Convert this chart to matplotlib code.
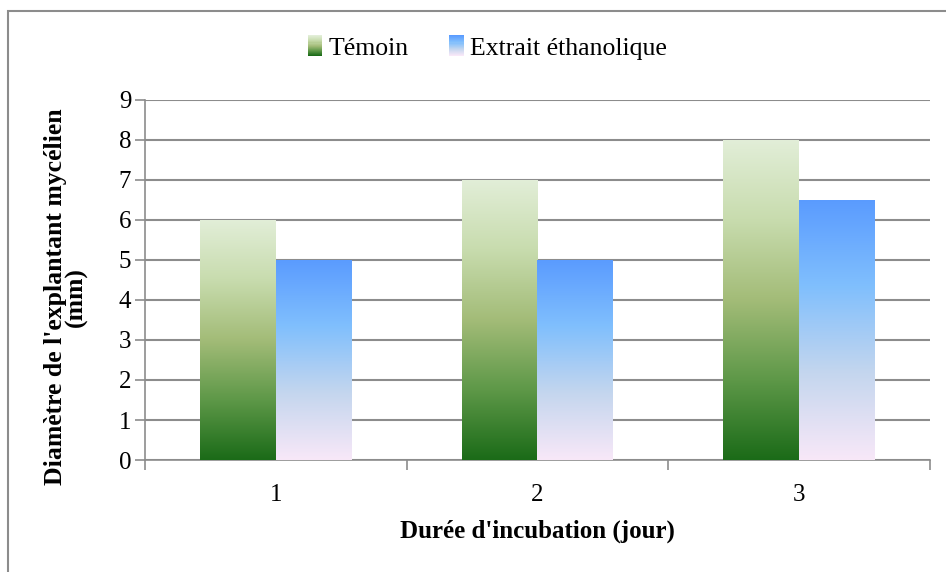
import numpy as np
import matplotlib
matplotlib.use('Agg')
import matplotlib.pyplot as plt
from matplotlib.colors import LinearSegmentedColormap
from matplotlib.patches import Rectangle
from matplotlib.legend_handler import HandlerBase

# données
jours = ['1', '2', '3']
temoin = [6, 7, 8]
extrait = [5, 5, 6.5]

plt.rcParams['font.family'] = ['Liberation Serif', 'DejaVu Serif']

cmap_vert = LinearSegmentedColormap.from_list('vert', ['#1b6b18', '#5e9848', '#a3bc78', '#c8dcae', '#e2eed8'])
cmap_bleu = LinearSegmentedColormap.from_list('bleu', ['#f8e8f8', '#c4d6ee', '#80bffd', '#5a9bff'])

fig = plt.figure(figsize=(9.46, 5.72), dpi=100)
ax = fig.add_axes([0.1533, 0.1958, 0.8297, 0.6294])

x = np.arange(len(jours))
w = 0.29
grad = np.linspace(0, 1, 256).reshape(-1, 1)


def gradient_bars(xs, vals, cmap):
    bars = ax.bar(xs, vals, width=w, color='none', edgecolor='none', zorder=3)
    for b in bars:
        x0, y0 = b.get_x(), b.get_y()
        im = ax.imshow(grad, cmap=cmap, origin='lower', aspect='auto',
                       extent=[x0, x0 + b.get_width(), y0, y0 + b.get_height()],
                       zorder=3)
        im.set_clip_path(b)
    return bars


gradient_bars(x - w / 2, temoin, cmap_vert)
gradient_bars(x + w / 2, extrait, cmap_bleu)

ax.set_xlim(-0.5, 2.5)
ax.set_ylim(0, 9)
ax.set_yticks(range(10))
ax.yaxis.grid(True, color='#8c8c8c', linewidth=1.5, zorder=0)
ax.set_axisbelow(True)

ax.set_xticks(x)
ax.set_xticklabels(jours)
ax.set_xticks([-0.5, 0.5, 1.5, 2.5], minor=True)
ax.tick_params(axis='x', which='major', length=0, pad=17, labelsize=18)
ax.tick_params(axis='x', which='minor', length=7, color='#8c8c8c', width=1.2)
ax.tick_params(axis='y', length=7, color='#8c8c8c', width=1.2, labelsize=18, pad=3)

for s in ['top', 'right']:
    ax.spines[s].set_visible(False)
for s in ['left', 'bottom']:
    ax.spines[s].set_color('#8c8c8c')
    ax.spines[s].set_linewidth(1.2)

ax.set_xlabel("Durée d'incubation (jour)", fontsize=18, fontweight='bold')
ax.xaxis.set_label_coords(0.5, (460 - 531) / 360)
ax.xaxis.label.set_va('center')
ax.set_ylabel("Diamètre de l'explantant mycélien\n(mm)", fontsize=18.5, fontweight='bold',
              linespacing=0.85)
ax.yaxis.set_label_coords((66 - 145) / 785, (460 - 297) / 360)
ax.yaxis.label.set_va('center')


class HandlerGradient(HandlerBase):
    def __init__(self, cmap):
        super().__init__()
        self.cmap = cmap

    def create_artists(self, legend, orig_handle, xdescent, ydescent, width, height, fontsize, trans):
        n = 20
        artists = []
        hh = height * 1.15
        ww = width
        for i in range(n):
            r = Rectangle((-xdescent, -ydescent - 1 + i * hh / n), ww, hh / n + 0.3,
                          facecolor=self.cmap(i / (n - 1)), edgecolor='none', transform=trans)
            artists.append(r)
        return artists


h1 = Rectangle((0, 0), 1, 1)
h2 = Rectangle((0, 0), 1, 1)
fig.legend([h1, h2], ['Témoin', 'Extrait éthanolique'], loc='center', bbox_to_anchor=(0.515, 0.916),
           ncol=2, frameon=False, fontsize=18.5, handlelength=0.55, handletextpad=0.25,
           columnspacing=1.6,
           handler_map={h1: HandlerGradient(cmap_vert), h2: HandlerGradient(cmap_bleu)})

fig.patches.append(Rectangle((0.008, -0.05), 1.1, 1.05 - 11 / 572, transform=fig.transFigure,
                             fill=False, edgecolor='#8c8c8c', linewidth=1.5))

fig.savefig('out.png', dpi=100)
